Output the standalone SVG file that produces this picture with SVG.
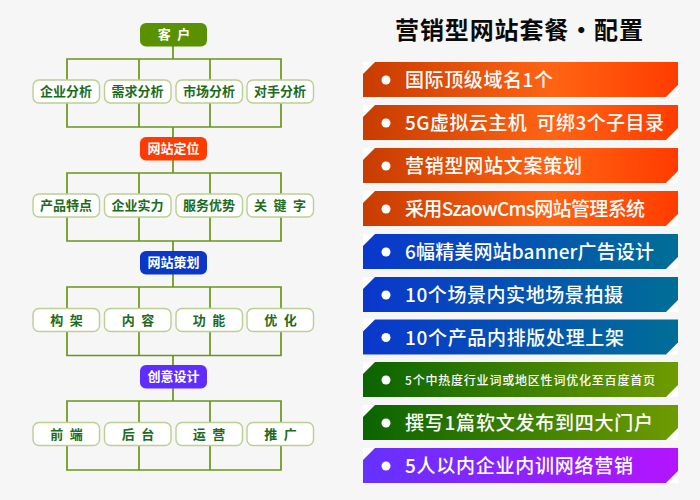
<svg xmlns="http://www.w3.org/2000/svg" width="700" height="500" viewBox="0 0 700 500">
<style>
text{font-family:"Noto Sans CJK SC","Liberation Sans",sans-serif}
.ht{fill:#fff;font-size:13px;font-weight:700;text-anchor:middle;word-spacing:3.600px}
.b{fill:#fff;stroke:#bccf93;stroke-width:1.400}
.bt{fill:#1c6b1c;font-size:13px;font-weight:700;text-anchor:middle;word-spacing:3.600px}
.c{fill:none;stroke:#6a9618;stroke-width:1.700}
.bar{fill:#fff}
.dot{fill:#fff}
.lt{fill:#fff;font-size:19px;font-weight:500}
.title{fill:#0a0a0a;font-size:24px;font-weight:700}
</style>
<defs>
<linearGradient id="go" x1="0" x2="1" y1="0" y2="0"><stop offset="0" stop-color="#c83c00"/><stop offset=".6" stop-color="#ff6414"/><stop offset="1" stop-color="#ff3c00"/></linearGradient>
<linearGradient id="gb" x1="0" x2="1" y1="0" y2="0"><stop offset="0" stop-color="#0a37cd"/><stop offset="1" stop-color="#006e96"/></linearGradient>
<linearGradient id="gg" x1="0" x2="1" y1="0" y2="0"><stop offset="0" stop-color="#0a6400"/><stop offset="1" stop-color="#6e9b00"/></linearGradient>
<linearGradient id="gp" x1="0" x2="1" y1="0" y2="0"><stop offset="0" stop-color="#6432ff"/><stop offset="1" stop-color="#b414ff"/></linearGradient>
<path id="shape" d="M375 0H678V23L666 35H363V12Z"/>
<rect id="box" width="66.500" height="23" rx="6"/>
<rect id="hd" width="67" height="23.500" rx="6"/>
</defs>
<rect width="700" height="500" fill="#f6f6f6"/>
<g id="connectors">
<path class="c" d="M173 46V59M67 80V59H281V80M139 59V80M210 59V80M67 103V127H281V103M139 103V127M210 103V127M173 127V137M173 160V173M67 194V173H281V194M139 173V194M210 173V194M67 217V241H281V217M139 217V241M210 217V241M173 241V251M173 274V287M67 308V287H281V308M139 287V308M210 287V308M67 331V355.500H281V331M139 331V355.500M210 331V355.500M173 355.500V365M173 388V401M67 422V401H281V422M139 401V422M210 401V422M67 445V470H281V445M139 445V470M210 445V470"/>
</g>
<g id="n-kehu"><use href="#hd" x="140" y="23" fill="#5a9100"/><text class="ht" x="174" y="39">客 户</text></g>
<g id="n-a1"><use href="#box" class="b" x="33" y="80"/><text class="bt" x="66" y="96">企业分析</text></g>
<g id="n-a2"><use href="#box" class="b" x="104.500" y="80"/><text class="bt" x="137.500" y="96">需求分析</text></g>
<g id="n-a3"><use href="#box" class="b" x="176" y="80"/><text class="bt" x="209" y="96">市场分析</text></g>
<g id="n-a4"><use href="#box" class="b" x="247" y="80"/><text class="bt" x="280" y="96">对手分析</text></g>
<g id="n-dingwei"><use href="#hd" x="140" y="137" fill="#ff3c00"/><text class="ht" x="173.500" y="153">网站定位</text></g>
<g id="n-b1"><use href="#box" class="b" x="33" y="194"/><text class="bt" x="66" y="210">产品特点</text></g>
<g id="n-b2"><use href="#box" class="b" x="104.500" y="194"/><text class="bt" x="137.500" y="210">企业实力</text></g>
<g id="n-b3"><use href="#box" class="b" x="176" y="194"/><text class="bt" x="209" y="210">服务优势</text></g>
<g id="n-b4"><use href="#box" class="b" x="247" y="194"/><text class="bt" x="280" y="210">关 键 字</text></g>
<g id="n-cehua"><use href="#hd" x="140" y="251" fill="#0a37c8"/><text class="ht" x="173.500" y="267">网站策划</text></g>
<g id="n-c1"><use href="#box" class="b" x="33" y="308.500"/><text class="bt" x="66.500" y="324.500">构 架</text></g>
<g id="n-c2"><use href="#box" class="b" x="104.500" y="308.500"/><text class="bt" x="138" y="324.500">内 容</text></g>
<g id="n-c3"><use href="#box" class="b" x="176" y="308.500"/><text class="bt" x="209" y="324.500">功 能</text></g>
<g id="n-c4"><use href="#box" class="b" x="247" y="308.500"/><text class="bt" x="280.500" y="324.500">优 化</text></g>
<g id="n-sheji"><use href="#hd" x="140" y="365" fill="#5f2dff"/><text class="ht" x="173.500" y="381">创意设计</text></g>
<g id="n-d1"><use href="#box" class="b" x="33" y="422.500"/><text class="bt" x="66.500" y="438.500">前 端</text></g>
<g id="n-d2"><use href="#box" class="b" x="104.500" y="422.500"/><text class="bt" x="138" y="438.500">后 台</text></g>
<g id="n-d3"><use href="#box" class="b" x="176" y="422.500"/><text class="bt" x="209" y="438.500">运 营</text></g>
<g id="n-d4"><use href="#box" class="b" x="247" y="422.500"/><text class="bt" x="280.500" y="438.500">推 广</text></g>
<text class="title" x="395" y="39" textLength="248">营销型网站套餐·配置</text>
<g id="p1"><rect class="bar" x="363" y="62" width="315" height="35"/><use href="#shape" y="62" fill="url(#go)"/><circle class="dot" cx="386" cy="80" r="4.500"/><text class="lt" x="405" y="87" textLength="148">国际顶级域名1个</text></g>
<g id="p2"><rect class="bar" x="363" y="105" width="315" height="35"/><use href="#shape" y="105" fill="url(#go)"/><circle class="dot" cx="386" cy="123" r="4.500"/><text class="lt" x="405" y="130" textLength="259" xml:space="preserve">5G虚拟云主机  可绑3个子目录</text></g>
<g id="p3"><rect class="bar" x="363" y="148" width="315" height="35"/><use href="#shape" y="148" fill="url(#go)"/><circle class="dot" cx="386" cy="166" r="4.500"/><text class="lt" x="405" y="173" textLength="177">营销型网站文案策划</text></g>
<g id="p4"><rect class="bar" x="363" y="191" width="315" height="35"/><use href="#shape" y="191" fill="url(#go)"/><circle class="dot" cx="386" cy="209" r="4.500"/><text class="lt" x="405" y="216" textLength="240">采用SzaowCms网站管理系统</text></g>
<g id="p5"><rect class="bar" x="363" y="234" width="315" height="35"/><use href="#shape" y="234" fill="url(#gb)"/><circle class="dot" cx="386" cy="252" r="4.500"/><text class="lt" x="405" y="259" textLength="249">6幅精美网站banner广告设计</text></g>
<g id="p6"><rect class="bar" x="363" y="277" width="315" height="35"/><use href="#shape" y="277" fill="url(#gb)"/><circle class="dot" cx="386" cy="295" r="4.500"/><text class="lt" x="405" y="302" textLength="218">10个场景内实地场景拍摄</text></g>
<g id="p7"><rect class="bar" x="363" y="319.500" width="315" height="35"/><use href="#shape" y="319.500" fill="url(#gb)"/><circle class="dot" cx="386" cy="337.500" r="4.500"/><text class="lt" x="405" y="344.500" textLength="219">10个产品内排版处理上架</text></g>
<g id="p8"><rect class="bar" x="363" y="362" width="315" height="35"/><use href="#shape" y="362" fill="url(#gg)"/><circle class="dot" cx="386" cy="380" r="4.500"/><text class="lt" x="405" y="385" style="font-size:12px" textLength="250">5个中热度行业词或地区性词优化至百度首页</text></g>
<g id="p9"><rect class="bar" x="363" y="405" width="315" height="35"/><use href="#shape" y="405" fill="url(#gg)"/><circle class="dot" cx="386" cy="423" r="4.500"/><text class="lt" x="405" y="430" textLength="248">撰写1篇软文发布到四大门户</text></g>
<g id="p10"><rect class="bar" x="363" y="448" width="315" height="35"/><use href="#shape" y="448" fill="url(#gp)"/><circle class="dot" cx="386" cy="466" r="4.500"/><text class="lt" x="405" y="473" textLength="228">5人以内企业内训网络营销</text></g>
</svg>
